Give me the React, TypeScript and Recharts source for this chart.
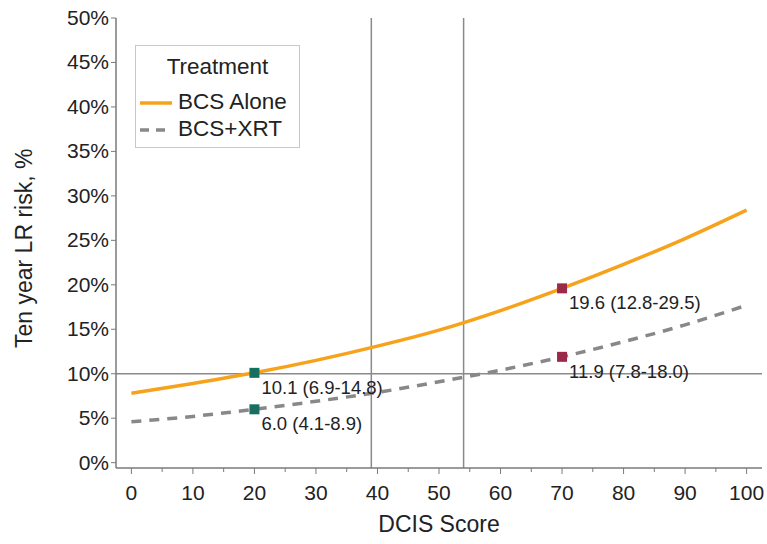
import React from "react";
import {
  ComposedChart,
  Line,
  Scatter,
  XAxis,
  YAxis,
  ReferenceLine,
} from "recharts";

const scores = [0, 10, 20, 30, 40, 50, 60, 70, 80, 90, 100];
const bcsAlone = [7.8, 8.9, 10.1, 11.5, 13.1, 14.9, 17.1, 19.6, 22.3, 25.2, 28.4];
const bcsXrt = [4.6, 5.2, 6.0, 6.9, 7.9, 9.1, 10.4, 11.9, 13.6, 15.5, 17.7];

const markerX = [20, 20, 70, 70];
const markerY = [10.1, 6.0, 19.6, 11.9];
const markerLabels = ["10.1 (6.9-14.8)", "6.0 (4.1-8.9)", "19.6 (12.8-29.5)", "11.9 (7.8-18.0)"];
const markerColors = ["#17705f", "#17705f", "#9b2a48", "#9b2a48"];

const xTicks = [0, 5, 10, 15, 20, 25, 30, 35, 40, 45, 50, 55, 60, 65, 70, 75, 80, 85, 90, 95, 100];
const yTicks = [0, 5, 10, 15, 20, 25, 30, 35, 40, 45, 50];
const cutoffs = [39, 54];
const threshold = 10;

const legendTitle = "Treatment";
const seriesNames = ["BCS Alone", "BCS+XRT"];

const table = scores.map((s, i) => ({ x: s, alone: bcsAlone[i], xrt: bcsXrt[i] }));
const markers = markerX.map((x, i) => ({ x, y: markerY[i], label: markerLabels[i], color: markerColors[i] }));

const FONT = "'Liberation Sans', Arial, sans-serif";
const AXIS = "#7a7a7a";
const ORANGE = "#f7a21b";
const GRAY = "#888";

const XTick = (props: any) => {
  const { x, y, payload } = props;
  const major = payload.value % 10 === 0;
  return (
    <g>
      <line x1={x} x2={x} y1={y - 8} y2={y - 8 + (major ? 6 : 4)} stroke={AXIS} strokeWidth={1} />
      {major && (
        <text x={x} y={y + 24} textAnchor="middle" fontSize={21} fontFamily={FONT} fill="#222">
          {payload.value}
        </text>
      )}
    </g>
  );
};

const YTick = (props: any) => {
  const { x, y, payload } = props;
  return (
    <g>
      <line x1={x + 8} x2={x + 3} y1={y} y2={y} stroke={AXIS} strokeWidth={1} />
      <text x={x + 1} y={y + 7} textAnchor="end" fontSize={21} fontFamily={FONT} fill="#222">
        {payload.value}%
      </text>
    </g>
  );
};

const MarkerShape = (props: any) => {
  const { cx, cy, payload } = props;
  return (
    <g>
      <rect x={cx - 5} y={cy - 5} width={10} height={10} fill={payload.color} />
      <text x={cx + 7} y={cy + 21} fontSize={18.5} fontFamily={FONT} fill="#222">
        {payload.label}
      </text>
    </g>
  );
};

const LegendBox = () => (
  <div
    style={{
      position: "absolute",
      left: 135,
      top: 45,
      width: 165,
      height: 103,
      border: "1px solid #c8c8c8",
      background: "#fff",
      fontFamily: FONT,
      color: "#222",
      boxSizing: "border-box",
      fontSize: 22.5,
    }}
  >
    <div style={{ position: "absolute", left: 0, width: 163, top: 8, textAlign: "center", lineHeight: "26px" }}>{legendTitle}</div>
    <svg style={{ position: "absolute", left: 3, top: 52 }} width={34} height={10}>
      <line x1={1} x2={33} y1={5} y2={5} stroke={ORANGE} strokeWidth={3.5} />
    </svg>
    <div style={{ position: "absolute", left: 42, top: 43, lineHeight: "26px" }}>{seriesNames[0]}</div>
    <svg style={{ position: "absolute", left: 3, top: 79 }} width={34} height={10}>
      <line x1={1} x2={33} y1={5} y2={5} stroke={GRAY} strokeWidth={3.5} strokeDasharray="9 7" />
    </svg>
    <div style={{ position: "absolute", left: 42, top: 70, lineHeight: "26px" }}>{seriesNames[1]}</div>
  </div>
);

export default function App() {
  return (
    <div style={{ position: "absolute", left: 0, top: 0, width: 767, height: 544, background: "#fff" }}>
      <ComposedChart
        width={767}
        height={544}
        data={table}
        margin={{ top: 18, right: 5, bottom: 26, left: 56 }}
      >
        <XAxis
          dataKey="x"
          type="number"
          domain={[-2.5, 102.5]}
          ticks={xTicks}
          interval={0}
          tick={<XTick />}
          tickLine={false}
          axisLine={{ stroke: AXIS, strokeWidth: 1.5 }}
          height={50}
          label={{ value: "DCIS Score", position: "insideBottom", offset: -14, fontSize: 23, fontFamily: FONT, fill: "#222" }}
        />
        <YAxis
          type="number"
          domain={[-0.6, 50]}
          ticks={yTicks}
          interval={0}
          tick={<YTick />}
          tickLine={false}
          axisLine={{ stroke: AXIS, strokeWidth: 1.5 }}
          width={60}
          label={{ value: "Ten year LR risk, %", angle: -90, position: "insideLeft", offset: -32, dy: 105, fontSize: 23, fontFamily: FONT, fill: "#222" }}
        />
        <ReferenceLine y={threshold} stroke="#8a8a8a" strokeWidth={1.5} />
        {cutoffs.map((c) => (
          <ReferenceLine key={c} x={c} stroke="#8a8a8a" strokeWidth={1.5} />
        ))}
        <Line dataKey="alone" type="monotone" stroke={ORANGE} strokeWidth={3.5} dot={false} isAnimationActive={false} />
        <Line dataKey="xrt" type="monotone" stroke={GRAY} strokeWidth={3.5} strokeDasharray="10 8" dot={false} isAnimationActive={false} />
        <Scatter data={markers} dataKey="y" shape={<MarkerShape />} isAnimationActive={false} />
      </ComposedChart>
      <LegendBox />
    </div>
  );
}
